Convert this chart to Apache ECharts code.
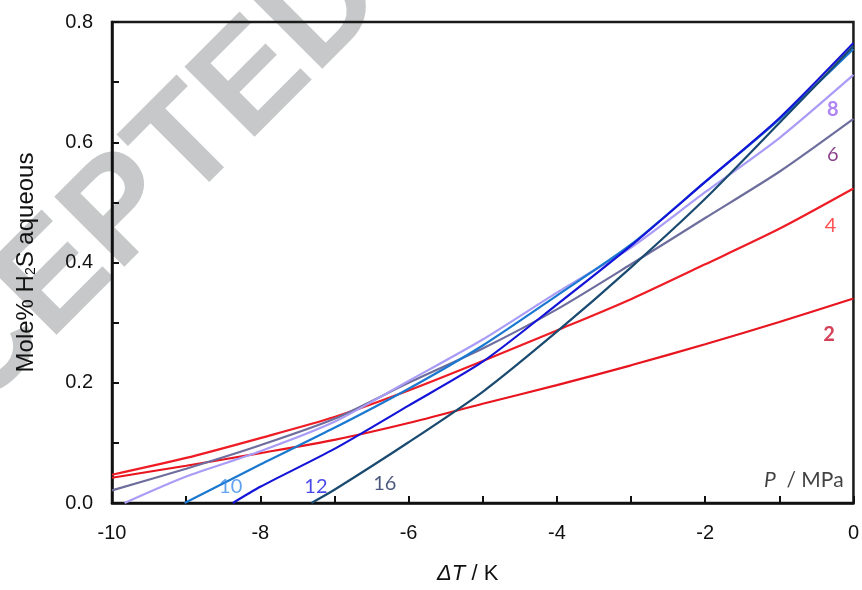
<!DOCTYPE html>
<html>
<head>
<meta charset="utf-8">
<script src="https://cdn.jsdelivr.net/npm/echarts@6/dist/echarts.min.js"></script>
<style>
  html, body { margin: 0; padding: 0; background: #fff; }
  #chart { width: 862px; height: 590px; }
</style>
</head>
<body>
<div id="chart"></div>
<script>
// Undercooling grid, K
const dT = [-10, -9, -8, -7, -6, -5, -4, -3, -2, -1, 0];

// Pressures, MPa
const pressures = [2, 4, 6, 8, 10, 12, 16];

// Temperature (K) where each curve leaves zero, null if it spans the whole range
const onset = [null, null, null, -9.83, -9.02, -8.37, -7.31];

// Mole% H2S in the aqueous phase at each dT (null = below zero)
const x2  = [0.042, 0.062, 0.083, 0.105, 0.133, 0.165, 0.196, 0.229, 0.264, 0.301, 0.340];
const x4  = [0.047, 0.075, 0.108, 0.143, 0.187, 0.236, 0.287, 0.339, 0.397, 0.456, 0.523];
const x6  = [0.021, 0.057, 0.096, 0.140, 0.200, 0.257, 0.322, 0.397, 0.474, 0.551, 0.639];
const x8  = [null, 0.044, 0.086, 0.135, 0.203, 0.272, 0.350, 0.425, 0.517, 0.607, 0.712];
const x10 = [null, null, 0.064, 0.125, 0.190, 0.262, 0.345, 0.430, 0.534, 0.638, 0.755];
const x12 = [null, null, 0.027, 0.090, 0.162, 0.235, 0.330, 0.428, 0.534, 0.640, 0.765];
const x16 = [null, null, null, 0.022, 0.101, 0.185, 0.285, 0.392, 0.506, 0.632, 0.760];
const curves = [x2, x4, x6, x8, x10, x12, x16];

// Axis ticks
const xTicks = [-10, -8, -6, -4, -2, 0];
const yTicks = [0.0, 0.2, 0.4, 0.6, 0.8];

// Pressure labels placed in data space: [dT, mole%, text]
const curveLabels = [
  [-0.33, 0.281, '2'],
  [-0.31, 0.461, '4'],
  [-0.28, 0.580, '6'],
  [-0.28, 0.654, '8'],
  [-8.40, 0.028, '10'],
  [-7.25, 0.028, '12'],
  [-6.32, 0.033, '16']
];
const unitLabel = [-0.67, 0.038];

const lineColors  = ['#e8141e', '#ee1c24', '#6e6e9e', '#a99cf6', '#1a78d0', '#1414d8', '#1a4a70'];
const labelColors = ['#c8102e', '#ff2626', '#6b0f6b', '#9a66f0', '#3a8ae8', '#1a1ae6', '#1e2e5e'];
const labelWeights = ['bold', 'normal', 'normal', 'bold', 'normal', 'normal', 'normal'];

const FONT = '"Liberation Sans", Arial, sans-serif';

function buildData(i) {
  const pts = [];
  if (onset[i] !== null) pts.push([onset[i], 0]);
  curves[i].forEach((v, k) => { if (v !== null) pts.push([dT[k], v]); });
  return pts;
}

const series = pressures.map((p, i) => ({
  name: p + ' MPa',
  type: 'line',
  data: buildData(i),
  smooth: 0.25,
  showSymbol: false,
  symbol: 'none',
  lineStyle: { width: 2.2, color: lineColors[i] },
  z: 3
}));

series.push({
  name: 'labels',
  type: 'scatter',
  silent: true,
  symbolSize: 0,
  z: 4,
  data: curveLabels.map((l, i) => ({
    value: [l[0], l[1]],
    label: {
      show: true,
      formatter: l[2],
      color: labelColors[i],
      fontFamily: 'Lato',
      fontWeight: labelWeights[i],
      fontSize: 20,
      position: 'inside'
    }
  })).concat([{
    value: unitLabel,
    label: {
      show: true,
      position: 'inside',
      formatter: '{i|P}  / MPa',
      color: '#111',
      fontFamily: 'Lato',
      fontSize: 21,
      rich: { i: { fontStyle: 'italic', fontFamily: 'Lato', fontSize: 21, color: '#111' } }
    }
  }])
});

const chart = echarts.init(document.getElementById('chart'), null, { renderer: 'canvas' });
chart.setOption({
  animation: false,
  backgroundColor: '#ffffff',
  graphic: {
    elements: [{
      type: 'text',
      x: 81,
      y: 254,
      rotation: Math.PI / 4,
      z: -100,
      silent: true,
      style: {
        text: 'ACCEPTED',
        fill: '#c7c8c9',
        font: 'bold 144px ' + FONT,
        textAlign: 'center',
        textVerticalAlign: 'middle'
      }
    }]
  },
  grid: {
    left: 112, right: 4, top: 22, bottom: 84,
    show: true,
    borderColor: '#1a1a1a',
    borderWidth: 2.5,
    backgroundColor: 'transparent'
  },
  xAxis: {
    type: 'value',
    min: -10, max: 0, interval: 2,
    name: '{i|ΔT} / K',
    nameLocation: 'middle',
    nameGap: 60,
    nameTextStyle: {
      fontFamily: FONT,
      fontSize: 22, color: '#111',
      padding: [0, 30, 0, 0],
      rich: { i: { fontStyle: 'italic', fontFamily: FONT, fontSize: 22, color: '#111' } }
    },
    axisLine: { show: true, onZero: false, lineStyle: { color: '#111', width: 2.5 } },
    axisTick: { show: true, inside: true, length: 7, lineStyle: { color: '#111', width: 2 } },
    minorTick: { show: true, splitNumber: 2, length: 7, lineStyle: { color: '#111', width: 2 } },
    splitLine: { show: false },
    axisLabel: {
      margin: 20,
      fontFamily: FONT,
      fontSize: 20, color: '#111',
      formatter: v => xTicks.includes(v) ? String(v) : ''
    }
  },
  yAxis: {
    type: 'value',
    min: 0, max: 0.8, interval: 0.2,
    name: '{t|Mole% H}{s|2}{t|S aqueous}',
    nameLocation: 'middle',
    nameRotate: 90,
    nameGap: 74,
    nameTextStyle: {
      fontFamily: FONT,
      fontSize: 24, color: '#111',
      rich: {
        t: { fontFamily: FONT, fontSize: 24, color: '#111', verticalAlign: 'bottom', lineHeight: 28 },
        s: { fontFamily: FONT, fontSize: 14, color: '#111', verticalAlign: 'bottom', lineHeight: 12 }
      }
    },
    axisLine: { show: true, onZero: false, lineStyle: { color: '#111', width: 2.5 } },
    axisTick: { show: true, inside: true, length: 7, lineStyle: { color: '#111', width: 2 } },
    minorTick: { show: true, splitNumber: 2, length: 7, lineStyle: { color: '#111', width: 2 } },
    splitLine: { show: false },
    axisLabel: {
      margin: 19,
      fontFamily: FONT,
      fontSize: 20, color: '#111',
      formatter: v => yTicks.some(t => Math.abs(t - v) < 1e-9) ? v.toFixed(1) : ''
    }
  },
  series: series
});
</script>
</body>
</html>
